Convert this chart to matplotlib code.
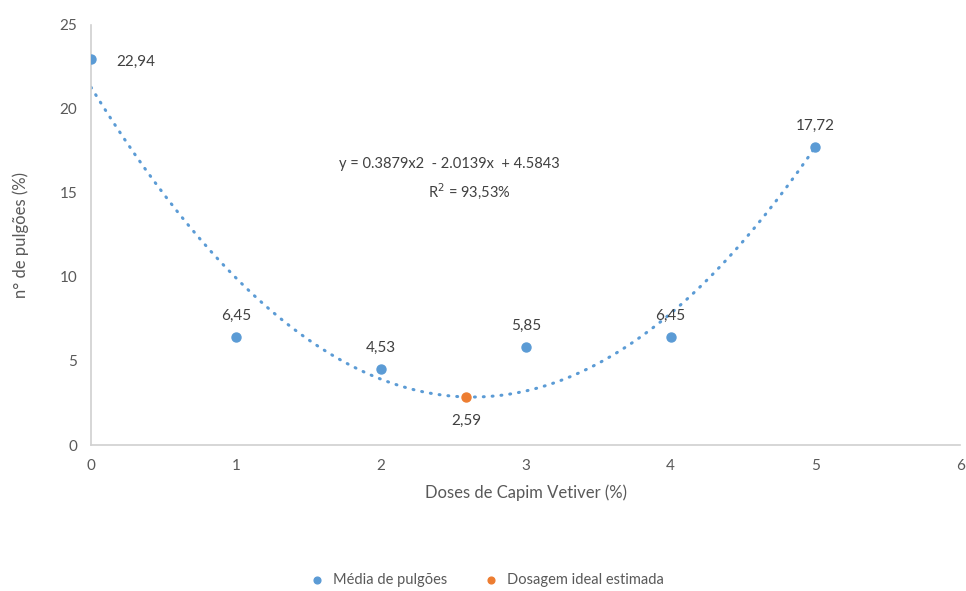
import numpy as np
import matplotlib
matplotlib.use("Agg")
import matplotlib.pyplot as plt

plt.rcParams["font.family"] = ["Lato", "DejaVu Sans"]

# dados
doses = [0, 1, 2, 3, 4, 5]
media_pulgoes = [22.94, 6.45, 4.53, 5.85, 6.45, 17.72]
rotulos = ["22,94", "6,45", "4,53", "5,85", "6,45", "17,72"]
dose_ideal_x = [2.59]
dose_ideal_y = [2.86]
rotulo_ideal = "2,59"
equacao = "y = 0.3879x2  - 2.0139x  + 4.5843"
r2 = "R$^2$ = 93,53%"

azul = "#5B9BD5"
laranja = "#ED7D31"
cinza_txt = "#595959"

fig = plt.figure(figsize=(9.66, 5.91), dpi=100)
ax = fig.add_axes([0.0942, 0.247, 0.9, 0.711])

# linha de tendência polinomial (grau 2)
coef = np.polyfit(doses, media_pulgoes, 2)
xs = np.linspace(0, 5, 200)
ax.plot(xs, np.polyval(coef, xs), color=azul, lw=2.2, ls=(0, (0.3, 2.6)),
        dash_capstyle="round", zorder=1)

ax.scatter(doses, media_pulgoes, s=42, color=azul, zorder=3,
           label="Média de pulgões")
ax.scatter(dose_ideal_x, dose_ideal_y, s=42, color=laranja, zorder=3,
           label="Dosagem ideal estimada")

for x, y, t in zip(doses, media_pulgoes, rotulos):
    if x == 0:
        ax.annotate(t, (x, y), xytext=(18, -2), textcoords="offset points",
                    ha="left", va="center", fontsize=11, color="#404040")
    else:
        ax.annotate(t, (x, y), xytext=(0, 10), textcoords="offset points",
                    ha="center", va="bottom", fontsize=11, color="#404040")
ax.annotate(rotulo_ideal, (dose_ideal_x[0], dose_ideal_y[0]), xytext=(0, -12),
            textcoords="offset points", ha="center", va="top",
            fontsize=11, color="#404040")

ax.text(2.47, 16.7, equacao, ha="center", va="center", fontsize=10.5, color="#404040")
ax.text(2.61, 15.1, r2, ha="center", va="center", fontsize=10.5, color="#404040")

ax.set_xlim(0, 6)
ax.set_ylim(0, 25)
ax.set_xticks(range(0, 7))
ax.set_yticks(range(0, 26, 5))
ax.tick_params(length=0, labelsize=11, labelcolor=cinza_txt, pad=10)
for s in ["top", "right"]:
    ax.spines[s].set_visible(False)
for s in ["left", "bottom"]:
    ax.spines[s].set_color("#D0D0D0")
    ax.spines[s].set_linewidth(1.2)

ax.set_xlabel("Doses de Capim Vetiver (%)", fontsize=12, color=cinza_txt, labelpad=8)
ax.set_ylabel("n° de pulgões (%)", fontsize=12, color=cinza_txt, labelpad=22)

fig.legend(loc="lower center", bbox_to_anchor=(0.5, -0.015), ncol=2, frameon=False,
           fontsize=10.5, labelcolor=cinza_txt, handletextpad=0.1,
           columnspacing=2.0, markerscale=0.75)

fig.savefig("out.png", dpi=100)
